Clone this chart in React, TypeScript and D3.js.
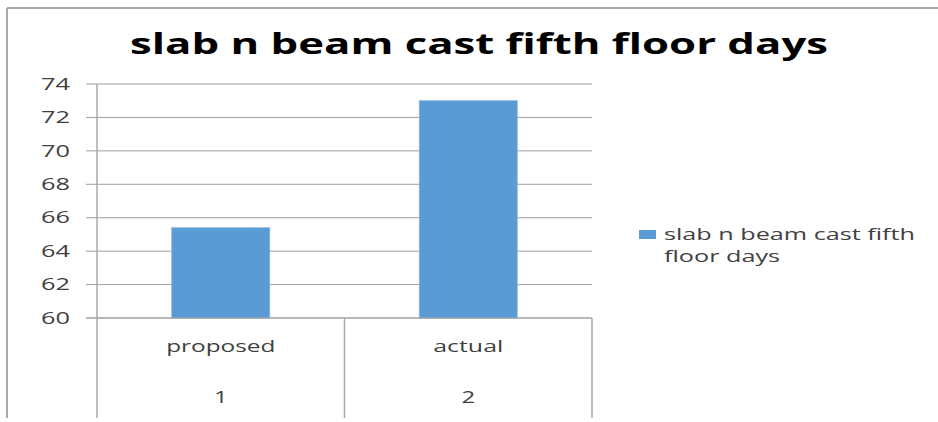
import React from "react";
import * as d3 from "d3";

const categories = ["proposed", "actual"];
const subLabels = ["1", "2"];
const values = [65.4, 73];
const seriesName = "slab n beam cast fifth floor days";
const yTicks = [60, 62, 64, 66, 68, 70, 72, 74];
const legendLines = ["slab n beam cast fifth", "floor days"];

const W = 938;
const H = 422;
const FONT = "'Open Sans', 'DejaVu Sans', sans-serif";
const TXT = "#404040";
const GRID = "#A0A0A0";
const FRAME = "#A8A8A8";

export default function App() {
  const plotLeft = 97;
  const plotRight = 592;
  const y = d3.scaleLinear().domain([60, 74]).range([318, 84]);
  const x = d3.scaleBand<string>().domain(categories).range([plotLeft, plotRight]).padding(0);
  const barW = x.bandwidth() * 0.396;
  const bottom = 418;

  const catLabelWidths: Record<string, number> = { proposed: 109, actual: 70 };

  return (
    <svg
      width={W}
      height={H}
      style={{ position: "absolute", left: 0, top: 0, background: "#fff" }}
      fontFamily={FONT}
    >
      <rect x={0} y={0} width={W} height={H} fill="#fff" />
      {/* outer frame */}
      <line x1={7} x2={W} y1={8} y2={8} stroke={FRAME} strokeWidth={2} />
      <line x1={7} x2={7} y1={8} y2={bottom} stroke={FRAME} strokeWidth={2} />

      {/* title */}
      <text
        x={130}
        y={54}
        fontSize={29}
        fontWeight="bold"
        fill="#000"
        textLength={698}
        lengthAdjust="spacingAndGlyphs"
      >
        {seriesName}
      </text>

      {/* gridlines + ticks */}
      {yTicks.map((t) => (
        <g key={t}>
          <line x1={86} x2={plotRight} y1={y(t)} y2={y(t)} stroke={GRID} strokeWidth={1} />
          <text
            x={41}
            y={y(t)}
            dy="0.36em"
            fontSize={16}
            fill={TXT}
            textLength={29}
            lengthAdjust="spacingAndGlyphs"
          >
            {t}
          </text>
        </g>
      ))}

      {/* bars */}
      {categories.map((c, i) => {
        const cx = (x(c) as number) + x.bandwidth() / 2;
        return (
          <rect
            key={c}
            x={cx - barW / 2}
            y={y(values[i])}
            width={barW}
            height={y(60) - y(values[i])}
            fill="#5B9BD5"
            stroke="#86B4E0"
            strokeWidth={0.8}
          />
        );
      })}

      {/* axes */}
      <line x1={plotLeft} x2={plotLeft} y1={84} y2={bottom} stroke={FRAME} strokeWidth={1.5} />
      <line x1={86} x2={plotRight} y1={318} y2={318} stroke={GRID} strokeWidth={1.2} />
      {categories.map((c) => (
        <line
          key={"d" + c}
          x1={(x(c) as number) + x.bandwidth()}
          x2={(x(c) as number) + x.bandwidth()}
          y1={318}
          y2={bottom}
          stroke={FRAME}
          strokeWidth={1.5}
        />
      ))}

      {/* category labels */}
      {categories.map((c, i) => {
        const cx = (x(c) as number) + x.bandwidth() / 2;
        const w = catLabelWidths[c];
        return (
          <g key={"l" + c}>
            <text
              x={cx - w / 2}
              y={352}
              fontSize={16}
              fill={TXT}
              textLength={w}
              lengthAdjust="spacingAndGlyphs"
            >
              {c}
            </text>
            <text
              x={cx}
              y={403}
              fontSize={16}
              fill={TXT}
              textAnchor="middle"
              transform={`translate(${cx},0) scale(1.5,1) translate(${-cx},0)`}
            >
              {subLabels[i]}
            </text>
          </g>
        );
      })}

      {/* legend */}
      <rect x={639} y={230} width={17} height={9} fill="#5B9BD5" />
      <text x={664} y={240} fontSize={16} fill={TXT} textLength={251} lengthAdjust="spacingAndGlyphs">
        {legendLines[0]}
      </text>
      <text x={664} y={262} fontSize={16} fill={TXT} textLength={116} lengthAdjust="spacingAndGlyphs">
        {legendLines[1]}
      </text>
    </svg>
  );
}
